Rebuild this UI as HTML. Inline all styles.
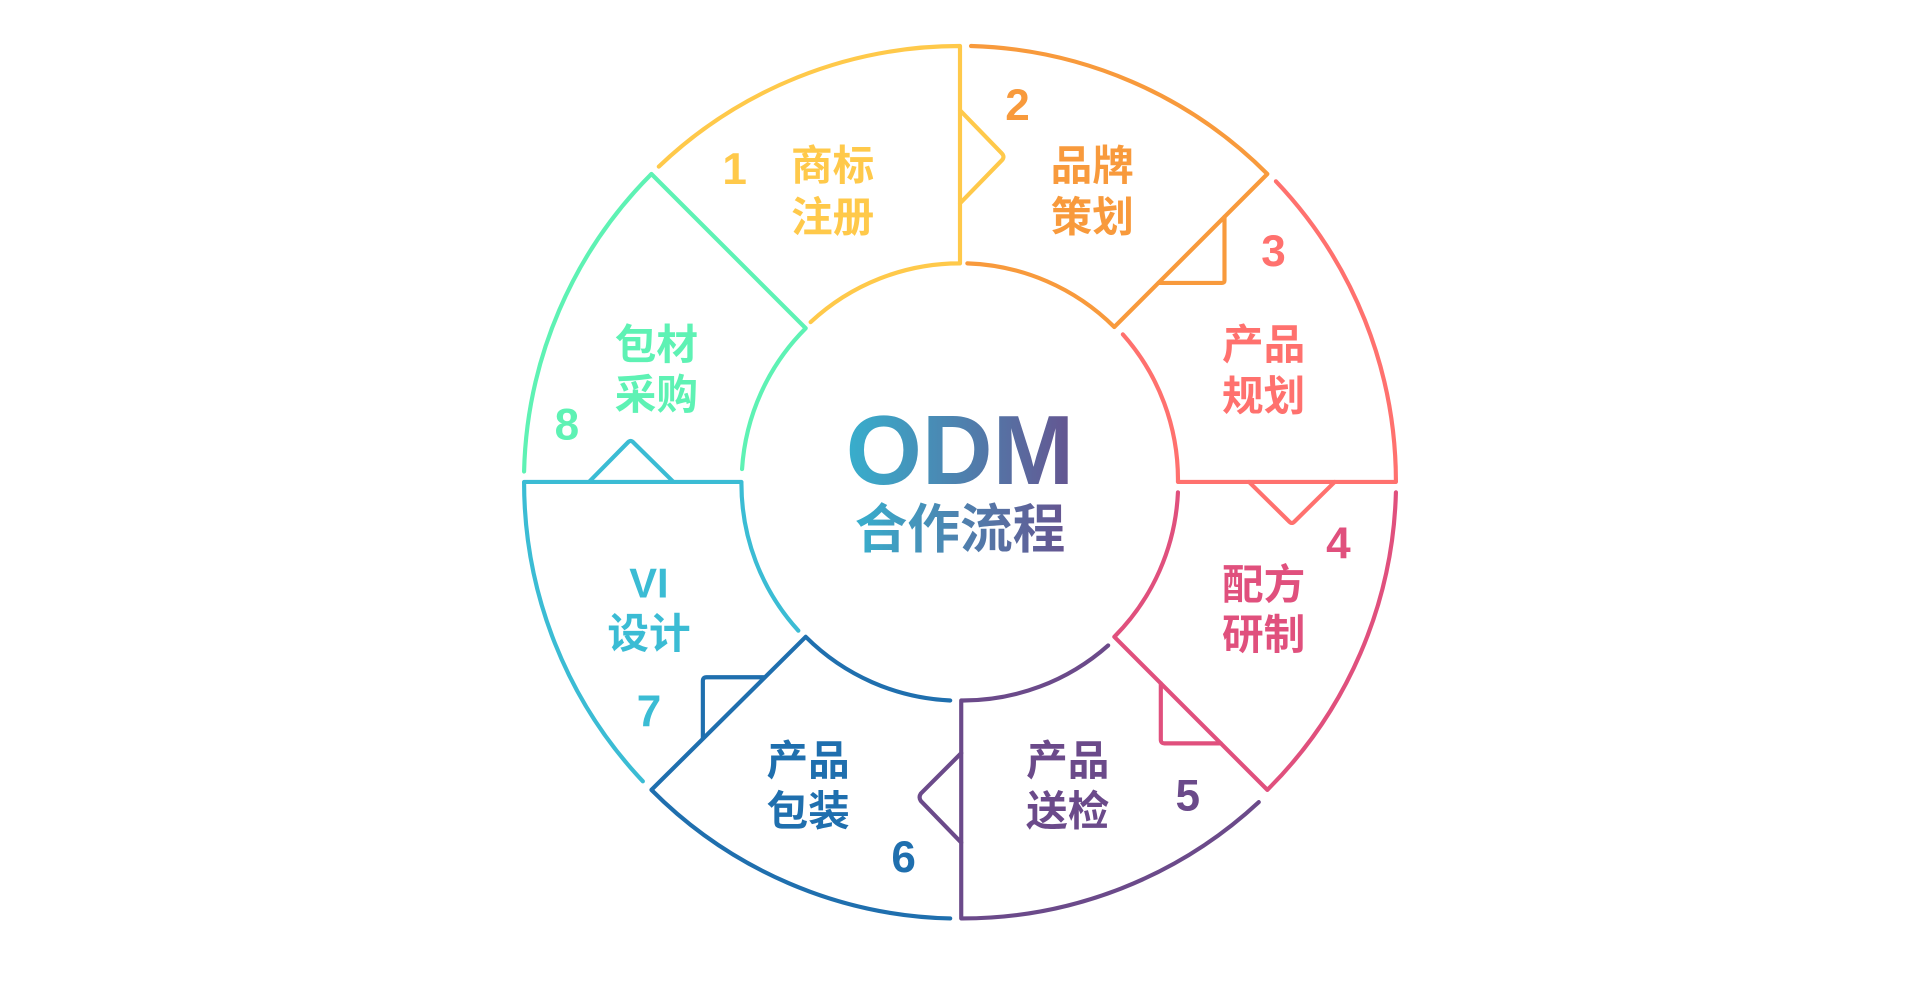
<!DOCTYPE html>
<html><head><meta charset="utf-8"><style>
html,body{margin:0;padding:0;background:#fff;}
svg{display:block;}
text{font-family:"Liberation Sans","Noto Sans CJK SC",sans-serif;font-weight:bold;text-anchor:middle;}
</style></head><body>
<svg width="1920" height="981" viewBox="0 0 1568 801" xmlns="http://www.w3.org/2000/svg">
<defs>
<linearGradient id="g" x1="0" y1="0" x2="1" y2="0">
<stop offset="0" stop-color="#37AFCD"/><stop offset="1" stop-color="#655490"/>
</linearGradient>
</defs>
<g fill="none" stroke-width="3.4" stroke-linejoin="round" stroke-linecap="round">
<!-- 1 yellow -->
<path stroke="#FFC94A" d="M538,136 A356,356 0 0 1 784,37.5 L784,215 A178.5,178.5 0 0 0 662,263"/>
<path stroke="#FFC94A" d="M784,90 L818,125 Q821,128 818,131 L784,166"/>
<!-- 2 orange -->
<path stroke="#F89A3C" d="M793,37.5 A356,356 0 0 1 1035,142 L910,267 A178.5,178.5 0 0 0 790,215"/>
<path stroke="#F89A3C" d="M1000,177 L1000,229 Q1000,231 998,231 L946,231"/>
<!-- 3 red -->
<path stroke="#FF716E" d="M1042,148 A356,356 0 0 1 1140,393.5 L962,393.5 A178.5,178.5 0 0 0 917,273"/>
<path stroke="#FF716E" d="M1090,393.5 L1057,426 Q1055,428 1053,426 L1020,393.5"/>
<!-- 4 pink -->
<path stroke="#E0507D" d="M1140,402 A356,356 0 0 1 1035,645 L910,520 A178.5,178.5 0 0 0 962,402"/>
<path stroke="#E0507D" d="M948,558 L948,604 Q948,607 951,607 L997,607"/>
<!-- 5 purple -->
<path stroke="#6B4A8A" d="M1028,655 A356,356 0 0 1 785,750 L785,572 A178.5,178.5 0 0 0 905,527"/>
<path stroke="#6B4A8A" d="M785,688 L752,654 Q750,651 752,648 L785,615"/>
<!-- 6 blue -->
<path stroke="#1F6FAE" d="M776,750 A356,356 0 0 1 532,645 L658,520 A178.5,178.5 0 0 0 776,572"/>
<path stroke="#1F6FAE" d="M624,553 L577,553 Q574,553 574,556 L574,603"/>
<!-- 7 cyan -->
<path stroke="#3BBCD4" d="M525,638 A356,356 0 0 1 428,393.5 L605.5,393.5 A178.5,178.5 0 0 0 652,515"/>
<path stroke="#3BBCD4" d="M481,393.5 L513,361 Q515,359 517,361 L550,393.5"/>
<!-- 8 green -->
<path stroke="#5EF2B4" d="M428,385 A356,356 0 0 1 532,142 L658,268 A178.5,178.5 0 0 0 606,383"/>
</g>
<g font-size="34">
<text x="680" y="147" fill="#FFC94A">商标</text><text x="680" y="189" fill="#FFC94A">注册</text>
<text x="892" y="147" fill="#F89A3C">品牌</text><text x="892" y="189" fill="#F89A3C">策划</text>
<text x="1032" y="293" fill="#FF716E">产品</text><text x="1032" y="335" fill="#FF716E">规划</text>
<text x="1032" y="489" fill="#E0507D">配方</text><text x="1032" y="530" fill="#E0507D">研制</text>
<text x="872" y="633" fill="#6B4A8A">产品</text><text x="872" y="674" fill="#6B4A8A">送检</text>
<text x="660" y="633" fill="#1F6FAE">产品</text><text x="660" y="674" fill="#1F6FAE">包装</text>
<text x="530" y="488" fill="#3BBCD4">VI</text><text x="530" y="529" fill="#3BBCD4">设计</text>
<text x="536" y="293" fill="#5EF2B4">包材</text><text x="536" y="334" fill="#5EF2B4">采购</text>
</g>
<g font-size="36">
<text x="600" y="150" fill="#FFC94A">1</text>
<text x="831" y="98" fill="#F89A3C">2</text>
<text x="1040" y="217" fill="#FF716E">3</text>
<text x="1093" y="456" fill="#E0507D">4</text>
<text x="970" y="662" fill="#6B4A8A">5</text>
<text x="738" y="712" fill="#1F6FAE">6</text>
<text x="530" y="593" fill="#3BBCD4">7</text>
<text x="463" y="359" fill="#5EF2B4">8</text>
</g>
<text x="784" y="395" font-size="80" fill="url(#g)">ODM</text>
<text x="784" y="447" font-size="43" fill="url(#g)">合作流程</text>
</svg>
</body></html>
